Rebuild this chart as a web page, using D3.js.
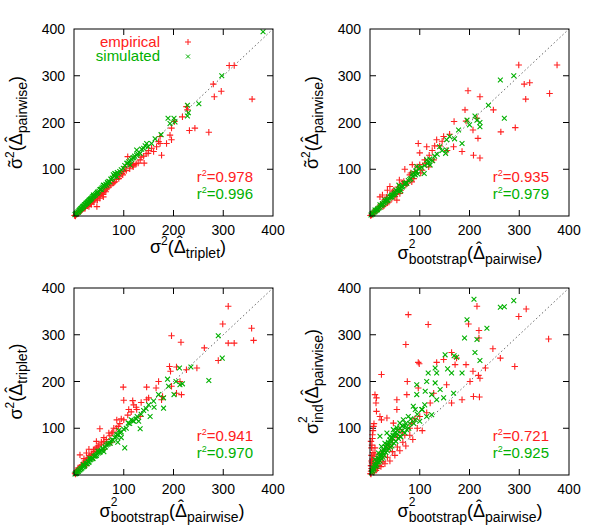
<!DOCTYPE html>
<html>
<head>
<meta charset="utf-8">
<script src="https://cdn.jsdelivr.net/npm/d3@7"></script>
<style>
  body { margin: 0; background: #fff; }
  svg text { font-family: "Liberation Sans", Arial, sans-serif; }
</style>
</head>
<body>
<svg id="chart" width="600" height="526"></svg>
<script>
// ---- data ----
var ticks = [100, 200, 300, 400];

var p1Emp = [[312,322],[322,322],[280,282],[282,255],[296,267],[358,250],[271,179],[232,183],[243,188],[228,227],[226,234],[218,212],[202,202],[196,188],[193,173],[173,170],[170,159],[186,155],[196,163],[176,130],[160,138],[149,134],[141,113],[133,120],[108,127],[113,109],[103,105],[86,84],[72,70],[46,20],[59,41],[47,34],[3,0],[9,6],[22,16],[32,27],[82,73],[96,91],[119,105],[129,113],[156,145],[166,148],[173,155],
  [15,12],[18,16],[25,22],[28,24],[35,30],[38,33],[42,36],[50,44],[55,48],[60,52],[65,58],[70,62],[78,70],[90,80],[100,95],[120,110],[140,128],[150,140],[5,4],[12,10],
  [1,1],[4,3],[7,5],[10,8],[13,11],[16,13],[20,17],[23,19],[27,23],[30,26],[33,28],[36,31],[40,34],[44,38],[48,41],[52,45],[57,50],[62,55],[67,60],[74,66],[80,71],[85,78],[92,84],[98,88],[105,97],[112,101],[118,108],[125,112],[135,126],[145,133],[30,20],[40,30],[52,38],[64,52],[58,46],[35,25]];
var p1Sim = [[380,394],[297,300],[228,237],[230,221],[251,240],[228,214],[189,209],[201,209],[193,198],[203,201],[175,174],[163,165],[146,155],[149,148],[126,141],[126,130],[116,121],[106,113],[89,91],[82,91],[86,84],[72,73],[66,66],[52,56],[46,48],[32,34],[25,27],[19,20],[12,13],[9,8],[99,102],[113,109],[133,134],[156,155],[79,88],[59,66],[39,45],
  [5,6],[15,16],[22,24],[28,30],[35,37],[42,44],[48,50],[55,57],[62,64],[68,70],[75,78],[92,95],[110,116],[120,125],[140,145],
  [2,3],[4,5],[6,7],[8,9],[10,11],[11,13],[13,15],[14,16],[16,18],[17,19],[18,21],[20,22],[21,24],[23,25],[24,27],[26,28],[27,30],[29,31],[30,33],[31,34],[33,36],[34,37],[36,39],[37,41],[39,42],[40,44],[43,46],[45,48],[47,51],[50,53],[53,57],[56,60],[58,62],[61,65],[64,68],[67,72],[70,74],[74,79],[77,81],[81,85],[84,90],[87,93],[95,99],[102,108],[108,113],[113,118],[118,124],[122,128],[128,133],[136,143],[143,150]];

var p2Emp = [[299,323],[376,323],[310,282],[321,285],[361,262],[313,250],[197,268],[221,255],[248,227],[191,227],[292,189],[263,180],[215,209],[207,184],[193,203],[217,166],[208,130],[221,124],[169,202],[148,170],[134,163],[168,148],[185,138],[97,155],[114,148],[119,130],[128,120],[111,113],[60,48],[54,34],[40,63],[20,41],[59,77],[84,73],
  [3,2],[8,10],[14,12],[22,25],[28,22],[33,40],[38,30],[45,52],[50,42],[65,70],[72,66],[80,88],[90,95],[100,110],[105,98],[125,140],[140,150],[160,175],
  [1,1],[5,4],[9,7],[12,14],[17,15],[21,23],[26,20],[30,35],[35,28],[40,44],[44,38],[48,55],[52,46],[56,62],[62,55],[68,74],[75,70],[82,92],[88,80],[95,105],[102,92],[110,120],[118,105],[130,150],[145,160],[155,140],[100,135],[70,100],[85,110],[25,45],[35,55]];
var p2Sim = [[289,300],[262,291],[238,237],[270,209],[211,214],[221,200],[221,191],[195,205],[178,184],[154,163],[185,155],[152,134],[154,141],[140,148],[114,120],[121,109],[94,95],[91,88],[109,91],[94,106],[74,70],[60,59],[44,45],[30,34],[20,24],[10,13],
  [5,6],[15,14],[25,26],[35,33],[40,42],[48,46],[52,55],[58,52],[65,62],[70,68],[80,78],[85,90],[100,102],[118,115],[130,128],[160,170],[170,165],[200,195],[215,205],
  [2,2],[4,4],[6,5],[8,8],[10,9],[12,12],[14,13],[16,16],[18,17],[20,19],[22,22],[24,23],[26,25],[28,28],[30,29],[32,31],[34,34],[36,35],[38,38],[41,40],[43,43],[46,45],[49,48],[51,50],[54,54],[57,56],[60,58],[63,63],[66,64],[70,70],[73,71],[77,76],[82,80],[86,85],[88,92],[92,96],[96,90],[104,104],[110,108],[116,112],[120,122],[126,118],[135,132],[145,140],[58,66],[44,40],[62,54]];

var p3Emp = [[310,361],[299,323],[357,314],[361,288],[310,282],[322,282],[290,245],[262,272],[215,284],[196,298],[206,231],[192,232],[194,222],[226,225],[247,229],[213,200],[206,175],[216,172],[196,190],[178,168],[170,200],[165,186],[146,188],[146,161],[176,161],[118,159],[99,188],[100,160],[126,140],[133,125],[86,118],[89,104],[52,99],[76,90],[66,68],[39,54],[25,47],[12,43],[19,26],[8,15],
  [3,2],[10,12],[15,20],[22,30],[30,38],[35,45],[42,55],[48,62],[55,70],[60,80],[70,90],[80,100],[95,120],[110,140],[120,150],
  [2,4],[5,9],[8,12],[12,16],[16,22],[20,24],[25,32],[28,36],[32,42],[36,45],[40,50],[45,58],[50,62],[55,66],[60,72],[65,76],[72,84],[78,92],[85,100],[92,110],[100,118],[108,128],[115,135],[125,145],[135,155],[150,165],[25,20],[40,38],[60,55],[75,70],[20,35],[30,55],[45,72]];
var p3Sim = [[290,298],[298,250],[271,202],[235,231],[212,229],[188,205],[218,195],[213,193],[201,172],[180,165],[161,145],[153,125],[180,143],[127,125],[130,115],[133,99],[109,111],[102,58],[86,86],[73,68],[48,51],[32,36],[19,22],[9,8],
  [5,4],[14,13],[20,18],[26,25],[30,27],[38,35],[42,40],[45,42],[52,48],[58,55],[63,60],[68,66],[78,75],[85,82],[90,95],[95,92],[115,118],[120,115],[140,138],[150,150],[170,172],[190,190],[205,200],
  [2,2],[4,3],[6,6],[8,7],[10,10],[12,11],[14,14],[16,15],[18,17],[20,20],[22,21],[24,24],[26,24],[28,28],[30,29],[32,32],[34,33],[36,36],[38,36],[40,40],[43,41],[46,45],[49,47],[52,51],[55,53],[58,57],[62,60],[65,64],[70,68],[74,73],[78,75],[82,80],[88,86],[93,90],[100,98],[105,100],[112,110],[118,116],[125,120],[135,130],[145,142],[160,158],[88,70],[95,80],[60,50]];

var p4Emp = [[77,343],[117,322],[215,361],[314,355],[299,339],[359,291],[291,232],[262,250],[247,270],[219,309],[219,293],[198,323],
  [72,279],[23,215],[75,200],[97,241],[99,238],[134,241],[148,247],[164,262],[174,250],[171,236],[193,236],[207,222],[218,213],[221,207],[232,229],[208,168],[220,167],[201,200],[185,161],[164,154],[154,193],[128,175],[97,186],[74,172],[54,161],[54,140],[10,172],[13,165],[12,154],[13,136],[20,125],[23,118],[34,122],[47,111],[7,104],[5,86],[3,58],[10,58],[37,65],[60,97],[84,111],[114,133],[121,154],
  [2,2],[4,10],[3,20],[6,30],[8,40],[12,25],[15,35],[20,45],[25,40],[30,55],[40,60],[45,75],[55,80],[65,90],[70,85],[80,100],[90,120],[100,125],
  [1,3],[2,8],[3,14],[2,20],[4,26],[5,34],[3,42],[6,48],[4,64],[2,72],[5,78],[8,6],[12,10],[15,14],[18,20],[22,18],[26,28],[30,24],[35,38],[40,30],[45,50],[50,42],[55,60],[60,52],[66,70],[72,62],[80,85],[86,76],[95,100],[105,95],[6,95],[8,110],[3,30],[10,45]];
var p4Sim = [[209,376],[289,373],[262,359],[270,360],[235,314],[215,290],[190,293],[195,332],[211,262],[221,245],[169,255],[174,252],[151,257],[156,227],[164,218],[185,218],[134,218],[131,229],[117,218],[114,200],[111,179],[131,197],[124,172],[134,161],[148,165],[141,183],[168,175],[94,193],[94,172],[87,147],[91,140],[77,125],[91,118],[104,140],[114,125],[124,129],[67,118],[60,111],[54,101],[47,97],[40,83],[30,68],[23,61],[17,47],[10,33],[60,83],[74,97],[34,90],[20,83],
  [5,8],[8,15],[12,20],[15,28],[18,35],[22,40],[25,48],[28,55],[32,60],[36,65],[42,70],[46,78],[50,85],[55,88],[65,95],[70,105],[80,110],
  [3,5],[5,10],[6,15],[8,12],[9,20],[10,25],[12,18],[13,30],[14,22],[16,35],[17,28],[19,40],[20,30],[22,45],[23,35],[25,50],[26,38],[28,52],[29,42],[31,60],[32,48],[34,65],[35,52],[37,70],[38,56],[40,75],[41,60],[43,80],[44,62],[46,85],[48,68],[50,90],[52,72],[55,95],[57,78],[60,100],[62,82],[65,105],[70,90],[72,110],[78,100],[82,120],[88,110],[95,130],[100,115],[105,140],[110,150]];

// axis labels as [text, kind] parts
var lblSigTilPair = [["σ","tilde"],["2","sup"],["(",""],["Δ","hat"],["pairwise","sub"],[")",""]];
var lblSigTrip    = [["σ",""],["2","sup"],["(",""],["Δ","hat"],["triplet","sub"],[")",""]];
var lblBootPair   = [["σ",""],["2","suphi"],["bootstrap","stack"],["(",""],["Δ","hat"],["pairwise","sub"],[")",""]];
var lblIndPair    = [["σ",""],["2","suphi"],["ind","stack"],["(",""],["Δ","hat"],["pairwise","sub"],[")",""]];

var r2Emp = ["0.978", "0.935", "0.941", "0.721"];
var r2Sim = ["0.996", "0.979", "0.970", "0.925"];

// ---- layout ----
var W = 199, H = 187;
var red = "#ff2020", green = "#00b000";

var panels = [
  { left: 74,  top: 29,  emp: p1Emp, sim: p1Sim, xl: lblSigTrip,  yl: lblSigTilPair, xlx: 188, xly: 37, legend: true },
  { left: 370, top: 29,  emp: p2Emp, sim: p2Sim, xl: lblBootPair, yl: lblSigTilPair, xlx: 470, xly: 43 },
  { left: 74,  top: 288, emp: p3Emp, sim: p3Sim, xl: lblBootPair, yl: lblSigTrip,    xlx: 172, xly: 42 },
  { left: 370, top: 288, emp: p4Emp, sim: p4Sim, xl: lblBootPair, yl: lblIndPair,    xlx: 470, xly: 42 }
];

var svg = d3.select("#chart");

var x = d3.scaleLinear().domain([0, 400]).range([0, W]);
var y = d3.scaleLinear().domain([0, 400]).range([H, 0]);

function plus(d) {
  var cx = x(d[0]), cy = y(d[1]);
  return "M" + (cx - 3.2) + "," + cy + "h6.4M" + cx + "," + (cy - 3.2) + "v6.4";
}
function cross(d) {
  var cx = x(d[0]), cy = y(d[1]);
  return "M" + (cx - 2.4) + "," + (cy - 2.4) + "l4.8,4.8M" + (cx - 2.4) + "," + (cy + 2.4) + "l4.8,-4.8";
}

// rich text with super/subscripts and accents; text element must already be in the DOM
function richText(t, parts) {
  var off = 0, extraDx = 0, lastW = 0;
  parts.forEach(function (p) {
    var s = t.append("tspan").text(p[0]);
    var kind = p[1], target = 0, fs = 18;
    if (kind == "sup") { target = -8; fs = 12; }
    else if (kind == "suphi") { target = -11; fs = 12; }
    else if (kind == "sub" || kind == "stack") { target = 5; fs = 14; }
    s.attr("font-size", fs).attr("dy", target - off);
    var dx = extraDx;
    if (kind == "stack") dx -= lastW;
    if (dx) s.attr("dx", dx);
    extraDx = 0;
    off = target;
    lastW = s.node().getComputedTextLength();

    if (kind == "hat" || kind == "tilde") {
      var lift = kind == "hat" ? -4 : -1;
      var a = t.append("tspan").text(kind == "hat" ? "\u02C6" : "\u02DC")
        .attr("font-size", 18).attr("dy", lift);
      var wa = a.node().getComputedTextLength();
      a.attr("dx", -(lastW + wa) / 2);
      extraDx = (lastW - wa) / 2;
      off = lift;
    }
  });
}

panels.forEach(function (p, i) {
  var g = svg.append("g").attr("transform", "translate(" + p.left + "," + p.top + ")");

  // tick marks, inward on all sides
  var tk = [100, 200, 300];
  g.selectAll(".tb").data(tk).enter().append("path")
    .attr("d", function (d) { return "M" + x(d) + "," + H + "v-6M" + x(d) + ",0v6"; })
    .attr("stroke", "#000");
  g.selectAll(".tl").data(tk).enter().append("path")
    .attr("d", function (d) { return "M0," + y(d) + "h6M" + W + "," + y(d) + "h-6"; })
    .attr("stroke", "#000");

  // tick labels
  g.selectAll(".xt").data(ticks).enter().append("text")
    .attr("x", function (d) { return x(d); })
    .attr("y", H + 19)
    .attr("text-anchor", "middle")
    .attr("font-size", 14)
    .text(function (d) { return d; });
  g.selectAll(".yt").data(ticks).enter().append("text")
    .attr("x", -9)
    .attr("y", function (d) { return y(d) + 5; })
    .attr("text-anchor", "end")
    .attr("font-size", 14)
    .text(function (d) { return d; });

  // diagonal
  g.append("line")
    .attr("x1", x(0)).attr("y1", y(0)).attr("x2", x(400)).attr("y2", y(400))
    .attr("stroke", "#666").attr("stroke-dasharray", "1.5,2.5");

  // points
  g.selectAll(".emp").data(p.emp).enter().append("path")
    .attr("d", plus).attr("stroke", red).attr("stroke-width", 1.1).attr("fill", "none");
  g.selectAll(".sim").data(p.sim).enter().append("path")
    .attr("d", cross).attr("stroke", green).attr("stroke-width", 1.1).attr("fill", "none");

  // frame
  g.append("rect").attr("width", W).attr("height", H)
    .attr("fill", "none").attr("stroke", "#000");

  // r^2 text
  [[r2Emp[i], red, H - 34], [r2Sim[i], green, H - 17]].forEach(function (r) {
    var t = g.append("text").attr("x", W - 20).attr("y", r[2])
      .attr("text-anchor", "end").attr("font-size", 15).attr("fill", r[1]);
    t.append("tspan").text("r");
    t.append("tspan").text("2").attr("font-size", 9).attr("dy", -6);
    t.append("tspan").text("=" + r[0]).attr("dy", 6);
  });

  // legend
  if (p.legend) {
    g.append("text").attr("x", 86).attr("y", 18).attr("text-anchor", "end")
      .attr("font-size", 15).attr("fill", red).text("empirical");
    g.append("text").attr("x", 86).attr("y", 32).attr("text-anchor", "end")
      .attr("font-size", 15).attr("fill", green).text("simulated");
    g.append("path").attr("d", "M111,13h6M114,10v6").attr("stroke", red);
    g.append("path").attr("d", "M112,25.5l4,4M112,29.5l4,-4").attr("stroke", green);
  }

  // axis labels
  var xt = svg.append("text")
    .attr("x", p.xlx).attr("y", p.top + H + p.xly)
    .attr("text-anchor", "middle").attr("font-size", 18);
  richText(xt, p.xl);

  var yt = svg.append("text")
    .attr("transform", "translate(" + (p.left - 52) + "," + (p.top + H / 2) + ") rotate(-90)")
    .attr("text-anchor", "middle").attr("font-size", 18);
  richText(yt, p.yl);
});
</script>
</body>
</html>
